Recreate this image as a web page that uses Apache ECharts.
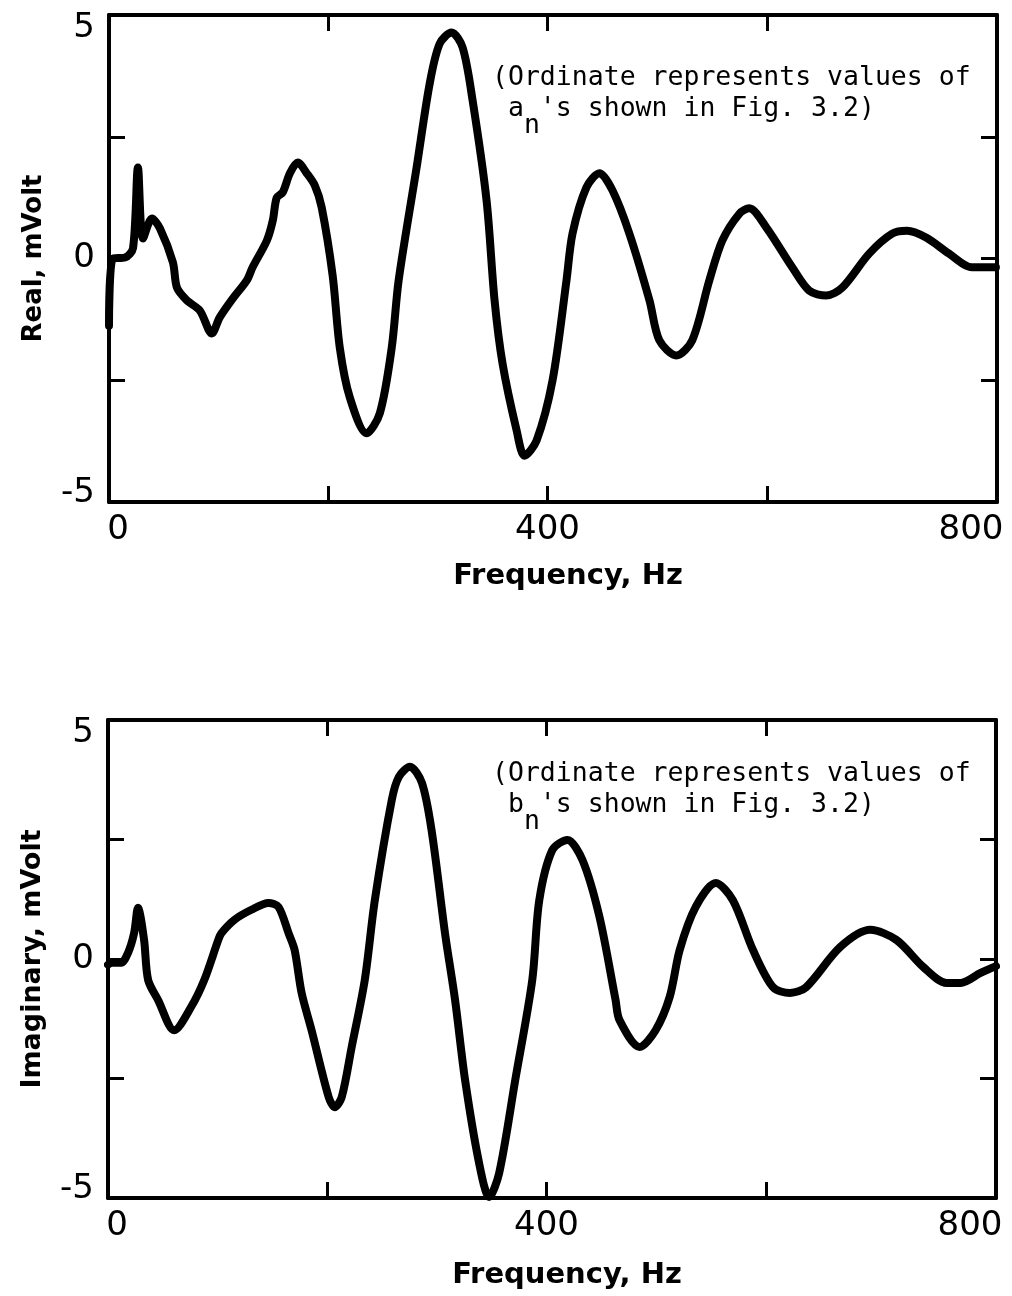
<!DOCTYPE html>
<html>
<head>
<meta charset="utf-8">
<script src="https://cdn.jsdelivr.net/npm/echarts@6/dist/echarts.min.js"></script>
<style>
html,body{margin:0;padding:0;background:#fff;}
#chart{width:1012px;height:1296px;}
</style>
</head>
<body>
<div id="chart"></div>
<script>
// ---- data ----
const realFreq = [0,3.6,14.6,21.9,26.4,31,39.2,46.4,58.3,62,71,82.9,93.8,101,113,125.7,131,144,149.4,153,158.5,165,172.2,180.4,187.7,194,204,210.5,219.6,235,247,257.9,264.2,280.6,292.5,301.6,312.5,322.6,331.7,344.4,351.7,359,371.8,379,390,404.6,417.3,422.8,435.5,447.4,459.2,474.7,493,502,517.5,532,547.6,559.5,575,584,599.5,623.2,638.7,654.2,668.8,693.4,714.4,728,745.3,766.3,787.2,809];
const realVal  = [-1.38,0,0.02,0.21,1.87,0.41,0.82,0.62,-0.08,-0.60,-0.86,-1.07,-1.54,-1.21,-0.82,-0.45,-0.18,0.37,0.78,1.25,1.36,1.75,1.97,1.75,1.50,1.05,-0.35,-1.83,-2.85,-3.59,-3.18,-1.83,-0.45,1.87,3.59,4.41,4.64,4.33,3.24,1.19,-0.86,-2.16,-3.53,-4.05,-3.74,-2.5,-0.45,0.51,1.46,1.75,1.40,0.51,-0.86,-1.68,-1.99,-1.68,-0.45,0.37,0.92,1.03,0.64,-0.18,-0.66,-0.76,-0.60,0.10,0.51,0.57,0.43,0.10,-0.18,-0.18];

const imagFreq = [0,2.7,11.9,18.3,23.8,27.4,32.9,36.6,45.7,60.4,75.9,87.8,100.6,103.4,115.3,130.8,146.4,155.5,164.7,170.2,176.6,185.7,201.3,206.8,213.2,222.3,234.2,243.4,258.9,265.3,275.4,286.4,295.5,307.4,316.6,325.7,338.5,347.7,356.8,371.5,387,393.4,405.3,419,432.8,448.3,463,466.6,484.9,499.5,512.4,521.5,536.1,554.4,570,588.3,606.6,622.1,636.8,667.9,695.3,719.1,743.8,764.9,777.7,796,810];
const imagVal  = [-0.12,-0.08,-0.08,0.13,0.54,1.07,0.40,-0.44,-0.86,-1.49,-1.00,-0.44,0.40,0.54,0.82,1.03,1.17,1.09,0.54,0.19,-0.71,-1.49,-2.89,-3.10,-2.89,-1.84,-0.44,1.23,3.33,3.81,4.02,3.68,2.64,0.54,-0.86,-2.53,-4.27,-4.98,-4.48,-2.53,-0.44,1.23,2.28,2.49,2.07,0.88,-0.86,-1.28,-1.84,-1.49,-0.79,0.19,1.09,1.59,1.23,0.19,-0.59,-0.71,-0.59,0.25,0.61,0.40,-0.17,-0.50,-0.50,-0.29,-0.15];

const xLabelValues = [0, 400, 800];
const xTickValues  = [200, 400, 600];
const yLabelValues = [-5, 0, 5];
const yTickValues  = [-2.5, 0, 2.5];

const xName = 'Frequency, Hz';
const yNames = ['Real, mVolt', 'Imaginary, mVolt'];
const noteLine1 = '(Ordinate represents values of';
const noteLine2 = [' a \'s shown in Fig. 3.2)', ' b \'s shown in Fig. 3.2)'];

// ---- chart ----
const chart = echarts.init(document.getElementById('chart'), null, {renderer: 'canvas'});
const black = '#000';
const tickFont = {fontFamily: 'DejaVu Sans', fontSize: 34, color: black};
const nameFont = {fontFamily: 'DejaVu Sans', fontSize: 29, fontWeight: 'bold', color: black};

const xLabelRich = {
  first: {...tickFont, padding: [0, 0, 0, 18]},
  last: {...tickFont, padding: [0, 30, 0, 0]},
  mid: {...tickFont}
};
const yLabelRich = {
  top: {...tickFont, padding: [26, 0, 0, 0]},
  bot: {...tickFont, padding: [0, 0, 18, 0]},
  mid: {...tickFont}
};

function xAxes(gridIndex, nameGap) {
  return [
    {
      type: 'value', gridIndex: gridIndex, position: 'bottom', min: 0, max: 810,
      name: xName, nameLocation: 'middle', nameGap: nameGap,
      nameTextStyle: {...nameFont, padding: [0, 0, 0, 30]},
      axisLine: {show: true, onZero: false, lineStyle: {color: black, width: 4}},
      axisTick: {show: true, inside: true, length: 16, lineStyle: {color: black, width: 3}, customValues: xTickValues},
      axisLabel: {
        show: true, margin: 11, customValues: xLabelValues, ...tickFont, rich: xLabelRich,
        formatter: v => v === 0 ? '{first|' + v + '}' : (v === 800 ? '{last|' + v + '}' : '{mid|' + v + '}')
      },
      splitLine: {show: false}
    },
    {
      type: 'value', gridIndex: gridIndex, position: 'top', min: 0, max: 810,
      axisLine: {show: true, onZero: false, lineStyle: {color: black, width: 4}},
      axisTick: {show: true, inside: true, length: 16, lineStyle: {color: black, width: 3}, customValues: xTickValues},
      axisLabel: {show: false},
      splitLine: {show: false}
    }
  ];
}
function yAxes(gridIndex, name, nameGap, nameSize) {
  return [
    {
      type: 'value', gridIndex: gridIndex, position: 'left', min: -5, max: 5,
      name: name, nameLocation: 'middle', nameGap: nameGap, nameRotate: 90,
      nameTextStyle: {...nameFont, fontSize: nameSize},
      axisLine: {show: true, onZero: false, lineStyle: {color: black, width: 4}},
      axisTick: {show: true, inside: true, length: 16, lineStyle: {color: black, width: 3}, customValues: yTickValues},
      axisLabel: {
        show: true, margin: 14, customValues: yLabelValues, ...tickFont, rich: yLabelRich,
        formatter: v => v === 5 ? '{top|' + v + '}' : (v === -5 ? '{bot|' + v + '}' : '{mid|' + v + '}')
      },
      splitLine: {show: false}
    },
    {
      type: 'value', gridIndex: gridIndex, position: 'right', min: -5, max: 5,
      axisLine: {show: true, onZero: false, lineStyle: {color: black, width: 4}},
      axisTick: {show: true, inside: true, length: 16, lineStyle: {color: black, width: 3}, customValues: yTickValues},
      axisLabel: {show: false},
      splitLine: {show: false}
    }
  ];
}

const monoFont = '26.5px "DejaVu Sans Mono", "Liberation Mono", monospace';
function note(y1, y2, line2, subY) {
  return [
    {type: 'text', left: 492, top: y1, style: {text: noteLine1, font: monoFont, fill: black}},
    {type: 'text', left: 492, top: y2, style: {text: line2, font: monoFont, fill: black}},
    {type: 'text', left: 492 + 2 * 15.95, top: subY, style: {text: 'n', font: monoFont, fill: black}}
  ];
}

const lineStyle = {color: black, width: 8, cap: 'round', join: 'round'};

chart.setOption({
  animation: false,
  backgroundColor: '#fff',
  grid: [
    {left: 109, right: 15, top: 15, height: 487, containLabel: false, outerBoundsMode: 'none'},
    {left: 108, right: 16, top: 720, height: 478, containLabel: false, outerBoundsMode: 'none'}
  ],
  xAxis: [...xAxes(0, 60), ...xAxes(1, 63)],
  yAxis: [...yAxes(0, yNames[0], 62, 26), ...yAxes(1, yNames[1], 62, 27)],
  series: [
    {
      type: 'line', xAxisIndex: 0, yAxisIndex: 0, showSymbol: false, smooth: 0.3,
      lineStyle: lineStyle,
      data: realFreq.map((f, i) => [f, realVal[i]])
    },
    {
      type: 'line', xAxisIndex: 2, yAxisIndex: 2, showSymbol: false, smooth: 0.3,
      lineStyle: lineStyle,
      data: imagFreq.map((f, i) => [f, imagVal[i]])
    }
  ],
  graphic: [
    ...note(65, 96, noteLine2[0], 113),
    ...note(761, 792, noteLine2[1], 809)
  ]
});
</script>
</body>
</html>
